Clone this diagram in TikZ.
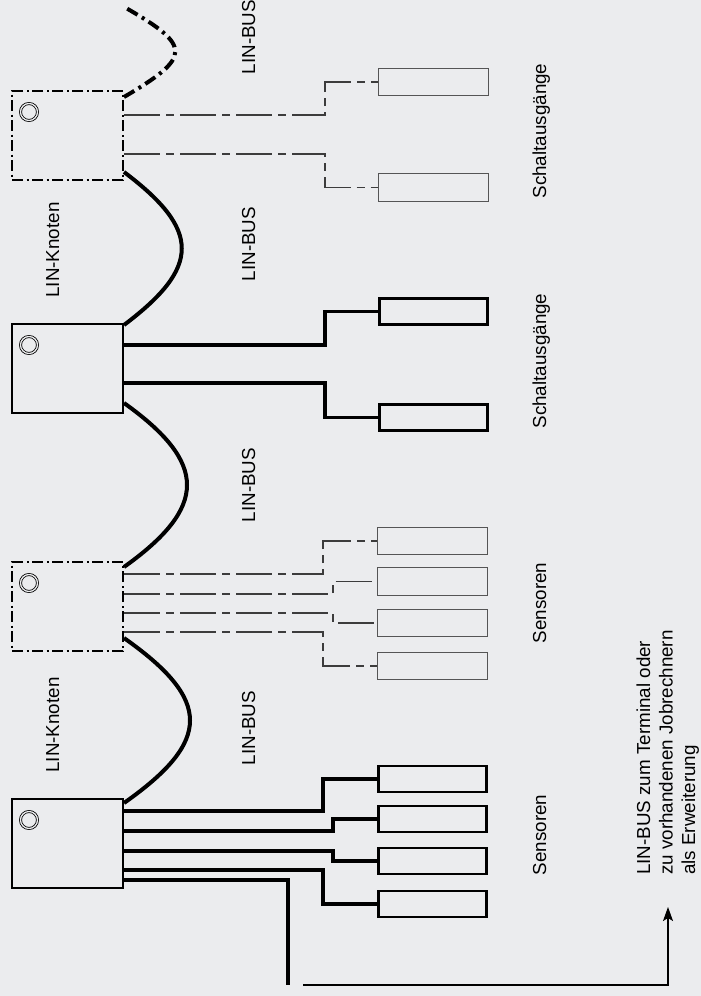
\documentclass[tikz,border=0pt]{standalone}
\usepackage{fontspec}
\setmainfont{Liberation Sans}
\usetikzlibrary{arrows.meta,calc}
\definecolor{bg}{RGB}{235,236,238}
\definecolor{thingray}{RGB}{60,60,60}
\definecolor{boxgray}{RGB}{85,85,85}
\begin{document}
\begin{tikzpicture}[x=1pt,y=-1pt,
  knot/.style={draw=black, line width=2pt, minimum width=111pt, minimum height=89pt, inner sep=0pt, outer sep=1pt},
  knotdd/.style={knot, dash pattern=on 11pt off 3.5pt on 2pt off 3.5pt},
  obox/.style={draw=black, line width=2.6pt, minimum width=108.5pt, minimum height=26pt, inner sep=0pt, outer sep=1.3pt},
  oboxthin/.style={draw=boxgray, line width=1.3pt, minimum width=110pt, minimum height=27.5pt, inner sep=0pt, outer sep=0.65pt},
  outthick/.style={draw=black, line width=3.3pt},
  outthin/.style={draw=thingray, line width=1.2pt, dash pattern=on 36pt off 6pt on 8pt off 6pt},
  bus/.style={draw=black, line width=4pt},
  busdd/.style={bus, dash pattern=on 12pt off 5pt on 3pt off 5pt},
  ring/.style={draw=black, line width=0.8pt, double=bg, double distance=1.3pt},
  lbl/.style={font=\fontsize{18.8}{22.5}\selectfont, rotate=90, inner sep=0pt, anchor=base},
  lblw/.style={font=\fontsize{18.8}{22.5}\selectfont, rotate=90, inner sep=0pt, anchor=base west},
  arr/.style={draw=black, line width=1.2pt, -{Stealth[length=14pt, width=10pt, inset=3pt]}}
]
\fill[bg] (0,0) rectangle (701,996);
\useasboundingbox (0,0) rectangle (701,996);

% LIN nodes
\node[knotdd] (k1) at (67.5,135.5) {};
\node[knot]   (k2) at (67.5,368.5) {};
\node[knotdd] (k3) at (67.5,606.5) {};
\node[knot]   (k4) at (67.5,843.5) {};

\foreach \k in {k1,k2,k3,k4}{
  \draw[ring] ($(\k.north west)+(18,22)$) circle[radius=8.5pt];
}

% output boxes
\node[oboxthin] (o1a) at (433.5,82) {};
\node[oboxthin] (o1b) at (433.5,187.5) {};
\node[obox] (o2a) at (433.5,311.5) {};
\node[obox] (o2b) at (433.5,417.5) {};
\node[oboxthin] (o3a) at (432.5,541) {};
\node[oboxthin] (o3b) at (432.5,581.5) {};
\node[oboxthin] (o3c) at (432.5,623) {};
\node[oboxthin] (o3d) at (432.5,666) {};
\node[obox] (o4a) at (432.5,779) {};
\node[obox] (o4b) at (432.5,819) {};
\node[obox] (o4c) at (432.5,861) {};
\node[obox] (o4d) at (432.5,904) {};

% connections node 1
\draw[outthin] ($(k1.north east)+(0,25)$) -- ++(201,0) |- (o1a.west);
\draw[outthin] ($(k1.north east)+(0,64)$) -- ++(201,0) |- (o1b.west);
% node 2
\draw[outthick] ($(k2.north east)+(0,22)$) -- ++(201,0) |- (o2a.west);
\draw[outthick] ($(k2.north east)+(0,60)$) -- ++(201,0) |- (o2b.west);
% node 3
\draw[outthin] ($(k3.north east)+(0,13)$) -- ++(199,0) |- (o3a.west);
\draw[outthin] ($(k3.north east)+(0,33)$) -- ++(209,0) |- (o3b.west);
\draw[outthin] ($(k3.north east)+(0,52)$) -- ++(209,0) |- (o3c.west);
\draw[outthin] ($(k3.north east)+(0,71)$) -- ++(199,0) |- (o3d.west);
% node 4
\draw[outthick] ($(k4.north east)+(0,13)$) -- ++(199,0) |- (o4a.west);
\draw[outthick] ($(k4.north east)+(0,33)$) -- ++(209,0) |- (o4b.west);
\draw[outthick] ($(k4.north east)+(0,53)$) -- ++(209,0) |- (o4c.west);
\draw[outthick] ($(k4.north east)+(0,72)$) -- ++(199,0) |- (o4d.west);

% bus curves
\coordinate (busfree) at (126,8);
\draw[busdd] ($(k1.north east)+(0,7)$) .. controls (192,57) and (192,46) .. (busfree);
\draw[bus] ($(k1.north east)+(0,82)$) .. controls (201,230) and (201,267) .. ($(k2.north east)+(0,2)$);
\draw[bus] ($(k2.north east)+(0,80)$) .. controls (208,463) and (208,507) .. ($(k3.north east)+(0,6)$);
\draw[bus] ($(k3.north east)+(0,77)$) .. controls (212,700) and (212,741) .. ($(k4.north east)+(0,5)$);

% bus to terminal
\coordinate (buscut) at (288,985);
\draw[bus] ($(k4.north east)+(0,82)$) -| (buscut);
\coordinate (arrS) at (303,985);
\coordinate (arrT) at (668,907);
\draw[arr] (arrS) -| (arrT);

% labels
\node[lbl] (b1) at (255,37) {LIN-BUS};
\node[lbl] (b2) at (255,244) {LIN-BUS};
\node[lbl] (b3) at (255,485) {LIN-BUS};
\node[lbl] (b4) at (255,728) {LIN-BUS};
\node[lbl] (n1) at (59,250) {LIN-Knoten};
\node[lbl] (n2) at (59,725) {LIN-Knoten};
\node[lbl] (s1) at (546,131) {Schaltausgänge};
\node[lbl] (s2) at (546,361) {Schaltausgänge};
\node[lbl] (e1) at (546,603) {Sensoren};
\node[lbl] (e2) at (546,835) {Sensoren};
\node[lblw] (t1) at (650,875) {LIN-BUS zum Terminal oder};
\node[lblw] (t2) at (672.5,875) {zu vorhandenen Jobrechnern};
\node[lblw] (t3) at (695,875) {als Erweiterung};
\end{tikzpicture}
\end{document}
